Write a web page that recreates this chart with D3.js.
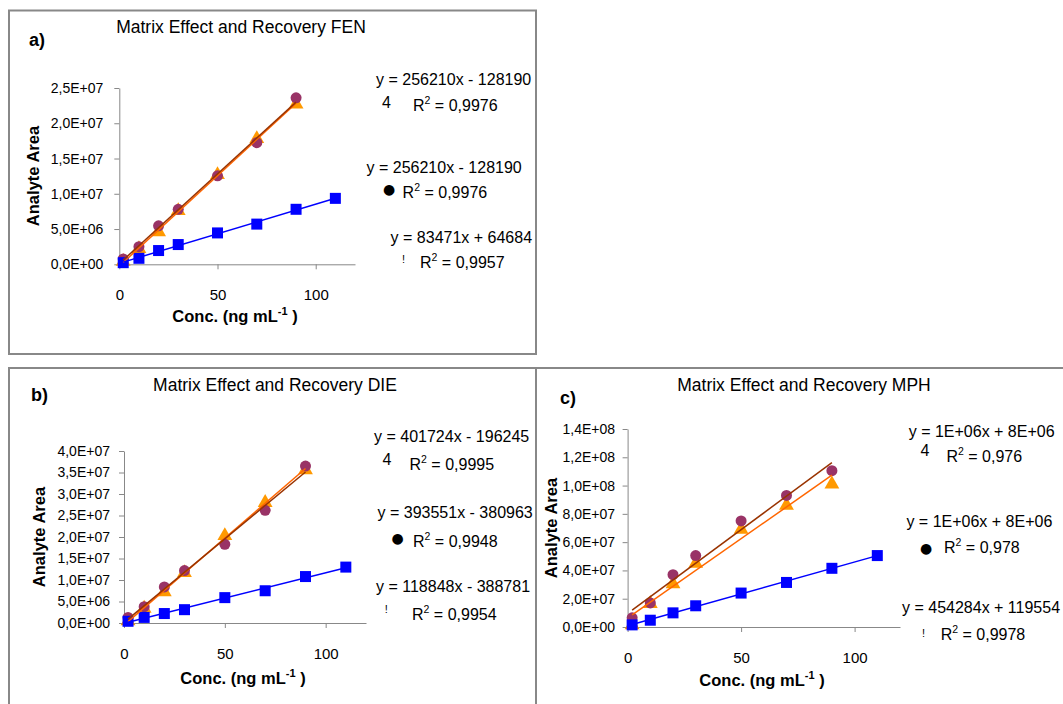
<!DOCTYPE html>
<html>
<head>
<meta charset="utf-8">
<script src="https://cdn.jsdelivr.net/npm/d3@7"></script>
<style>
  body { margin: 0; background: #fff; }
  svg { display: block; font-family: "Liberation Sans", Arial, sans-serif; }
</style>
</head>
<body>
<svg id="chart" width="1063" height="704"></svg>
<script>
// concentrations (ng/mL)
const conc = [2, 10, 20, 30, 50, 70, 90];
const concSquare = [2, 10, 20, 30, 50, 70, 90, 110];
const xTicks = [0, 50, 100];

// FEN
const fenSquare = [0.23e6, 0.85e6, 1.95e6, 2.8e6, 4.45e6, 5.7e6, 7.8e6, 9.35e6];
const fenCircle = [0.75e6, 2.5e6, 5.45e6, 7.8e6, 12.55e6, 17.25e6, 23.6e6];
const fenTriangle = [0.4e6, 2.2e6, 4.6e6, 7.6e6, 12.7e6, 17.8e6, 22.7e6];
const fenTicks = [0, 5e6, 1e7, 1.5e7, 2e7, 2.5e7];
const fenEq = ["y = 256210x - 128190", "y = 256210x - 128190", "y = 83471x + 64684"];
const fenR2 = ["0,9976", "0,9976", "0,9957"];

// DIE
const dieSquare = [0.4e6, 1.3e6, 2.2e6, 3.1e6, 5.9e6, 7.5e6, 10.8e6, 13.0e6];
const dieCircle = [1.3e6, 3.8e6, 8.4e6, 12.2e6, 18.3e6, 26.2e6, 36.5e6];
const dieTriangle = [0.5e6, 3.4e6, 7.2e6, 11.7e6, 20.3e6, 28.0e6, 35.6e6];
const dieTicks = [0, 5e6, 1e7, 1.5e7, 2e7, 2.5e7, 3e7, 3.5e7, 4e7];
const dieEq = ["y = 401724x - 196245", "y = 393551x - 380963", "y = 118848x - 388781"];
const dieR2 = ["0,9995", "0,9948", "0,9954"];

// MPH
const mphSquare = [1.5e6, 4.8e6, 10.0e6, 15.0e6, 24.0e6, 31.5e6, 41.5e6, 50.5e6];
const mphCircle = [6.5e6, 17e6, 37e6, 50.5e6, 75e6, 93e6, 110.5e6];
const mphTriangle = [1.5e6, 16.5e6, 30.5e6, 45e6, 69e6, 86e6, 101e6];
const mphTicks = [0, 2e7, 4e7, 6e7, 8e7, 1e8, 1.2e8, 1.4e8];
const mphEq = ["y = 1E+06x + 8E+06", "y = 1E+06x + 8E+06", "y = 454284x + 119554"];
const mphR2 = ["0,976", "0,978", "0,9978"];

// legend marker glyphs (left over from the symbol font)
const legendMarks = ["4", "\u25CF", "!"];

const svg = d3.select("#chart");

const panels = [
  {frame: [9, 10.5, 536, 354], tag: "a)", tagPos: [29, 46],
   title: "Matrix Effect and Recovery FEN", titlePos: [241, 33],
   x0: 119.3, x1: 355, y0: 264.3, y1: 88, ticks: fenTicks, yPad: 11,
   yTitle: [38.5, 176], xTitle: [235, 322],
   sq: fenSquare, ci: fenCircle, tr: fenTriangle, eq: fenEq, r2: fenR2,
   eqPos: [[376, 85], [366.5, 173], [390.6, 242.5]],
   markPos: [[382, 108], [389, 189.3], [402, 263]],
   rPos: [[413, 111], [402.6, 198], [420, 268]]},
  {frame: [9, 368, 536, 730], tag: "b)", tagPos: [31, 401],
   title: "Matrix Effect and Recovery DIE", titlePos: [275, 391],
   x0: 124, x1: 366, y0: 623, y1: 451, ticks: dieTicks, yPad: 9,
   yTitle: [44.7, 537], xTitle: [243, 684],
   sq: dieSquare, ci: dieCircle, tr: dieTriangle, eq: dieEq, r2: dieR2,
   eqPos: [[374, 442], [377.5, 518], [376, 591.5]],
   markPos: [[382.6, 465], [397.5, 538.3], [384.7, 613]],
   rPos: [[409.5, 470], [413, 546.5], [412, 620]]},
  {frame: [536, 368, 1080, 730], tag: "c)", tagPos: [560, 404],
   title: "Matrix Effect and Recovery MPH", titlePos: [804, 391],
   x0: 627.6, x1: 900, y0: 627, y1: 429, ticks: mphTicks, yPad: 7.5,
   yTitle: [556.8, 528], xTitle: [762, 686],
   sq: mphSquare, ci: mphCircle, tr: mphTriangle, eq: mphEq, r2: mphR2,
   eqPos: [[908.7, 436.5], [906.4, 526.5], [902, 613]],
   markPos: [[920.5, 455.7], [926.2, 547.7], [922, 637]],
   rPos: [[946.4, 461.5], [944, 553], [940.7, 640]]}
];

// 2.5E+07 style labels with decimal comma
function sciFormat(v) {
  if (v === 0) return "0,0E+00";
  const e = Math.floor(Math.log10(v) + 1e-9);
  const m = v / Math.pow(10, e);
  return m.toFixed(1).replace(".", ",") + "E+" + String(e).padStart(2, "0");
}

// least squares trendline
function linFit(xs, ys) {
  const mx = d3.mean(xs), my = d3.mean(ys);
  let sxy = 0, sxx = 0;
  xs.forEach((x, i) => { sxy += (x - mx) * (ys[i] - my); sxx += (x - mx) * (x - mx); });
  const b = sxy / sxx;
  return {b: b, a: my - b * mx};
}

function drawPanel(p) {
  const g = svg.append("g");

  g.append("rect")
    .attr("x", p.frame[0]).attr("y", p.frame[1])
    .attr("width", p.frame[2] - p.frame[0]).attr("height", p.frame[3] - p.frame[1])
    .attr("fill", "none").attr("stroke", "#888").attr("stroke-width", 2);

  const x = d3.scaleLinear().domain([0, 120]).range([p.x0, p.x1]);
  const y = d3.scaleLinear().domain([0, p.ticks[p.ticks.length - 1]]).range([p.y0, p.y1]);

  // axes
  const xa = g.append("g")
    .attr("transform", "translate(0," + p.y0 + ")")
    .call(d3.axisBottom(x).tickValues(xTicks).tickSize(5).tickPadding(20).tickSizeOuter(0));
  const ya = g.append("g")
    .attr("transform", "translate(" + p.x0 + ",0)")
    .call(d3.axisLeft(y).tickValues(p.ticks).tickFormat(sciFormat).tickSize(5).tickPadding(p.yPad).tickSizeOuter(0));
  [xa, ya].forEach(a => {
    a.select(".domain").attr("stroke", "#888");
    a.selectAll(".tick line").attr("stroke", "#888");
    a.selectAll("text").attr("fill", "#000").attr("font-family", "Liberation Sans, Arial, sans-serif");
  });
  xa.selectAll("text").attr("font-size", 15);
  ya.selectAll("text").attr("font-size", 14);

  // markers: triangles, circles, then squares on top
  const tri = d3.symbol().type(d3.symbolTriangle).size(95);
  g.append("g").selectAll("path").data(p.tr).join("path")
    .attr("d", tri)
    .attr("transform", (d, i) => "translate(" + x(conc[i]) + "," + y(d) + ")")
    .attr("fill", "#FF9900");
  g.append("g").selectAll("circle").data(p.ci).join("circle")
    .attr("cx", (d, i) => x(conc[i])).attr("cy", d => y(d)).attr("r", 5.5)
    .attr("fill", "#993366");
  g.append("g").selectAll("rect").data(p.sq).join("rect")
    .attr("x", (d, i) => x(concSquare[i]) - 5.5).attr("y", d => y(d) - 5.5)
    .attr("width", 11).attr("height", 11)
    .attr("fill", "#0000FF");

  // trendlines
  const trend = [
    {xs: conc, ys: p.tr, color: "#FF6600"},
    {xs: conc, ys: p.ci, color: "#993300"},
    {xs: concSquare, ys: p.sq, color: "#0000FF"}
  ];
  trend.forEach(t => {
    const f = linFit(t.xs, t.ys);
    const ends = d3.extent(t.xs);
    g.append("line")
      .attr("x1", x(ends[0])).attr("y1", y(f.a + f.b * ends[0]))
      .attr("x2", x(ends[1])).attr("y2", y(f.a + f.b * ends[1]))
      .attr("stroke", t.color).attr("stroke-width", 1.5);
  });

  // titles
  g.append("text").attr("x", p.titlePos[0]).attr("y", p.titlePos[1])
    .attr("text-anchor", "middle").attr("font-size", 17.5).text(p.title);
  g.append("text").attr("x", p.tagPos[0]).attr("y", p.tagPos[1])
    .attr("font-size", 18).attr("font-weight", "bold").text(p.tag);
  g.append("text")
    .attr("transform", "translate(" + p.yTitle[0] + "," + p.yTitle[1] + ") rotate(-90)")
    .attr("text-anchor", "middle").attr("font-size", 16.5).attr("font-weight", "bold")
    .text("Analyte Area");
  const xt = g.append("text").attr("x", p.xTitle[0]).attr("y", p.xTitle[1])
    .attr("text-anchor", "middle").attr("font-size", 16.5).attr("font-weight", "bold");
  xt.append("tspan").text("Conc. (ng mL");
  xt.append("tspan").attr("dy", -7).attr("font-size", 11).text("-1");
  xt.append("tspan").attr("dy", 7).text(" )");

  // trendline labels
  p.eq.forEach((s, i) => {
    g.append("text").attr("x", p.eqPos[i][0]).attr("y", p.eqPos[i][1])
      .attr("font-size", 16).text(s);
    const m = g.append("text").attr("x", p.markPos[i][0]).attr("y", p.markPos[i][1]);
    if (i === 0) m.attr("font-size", 16).text(legendMarks[0]);
    else if (i === 1) m.attr("font-size", 14).attr("font-family", "DejaVu Sans")
      .attr("text-anchor", "middle").attr("dominant-baseline", "central").text(legendMarks[1]);
    else m.attr("font-size", 11).text(legendMarks[2]);
    const r = g.append("text").attr("x", p.rPos[i][0]).attr("y", p.rPos[i][1])
      .attr("font-size", 16);
    r.append("tspan").text("R");
    r.append("tspan").attr("dy", -7).attr("font-size", 10.5).text("2");
    r.append("tspan").attr("dy", 7).text(" = " + p.r2[i]);
  });
}

panels.forEach(drawPanel);
</script>
</body>
</html>
